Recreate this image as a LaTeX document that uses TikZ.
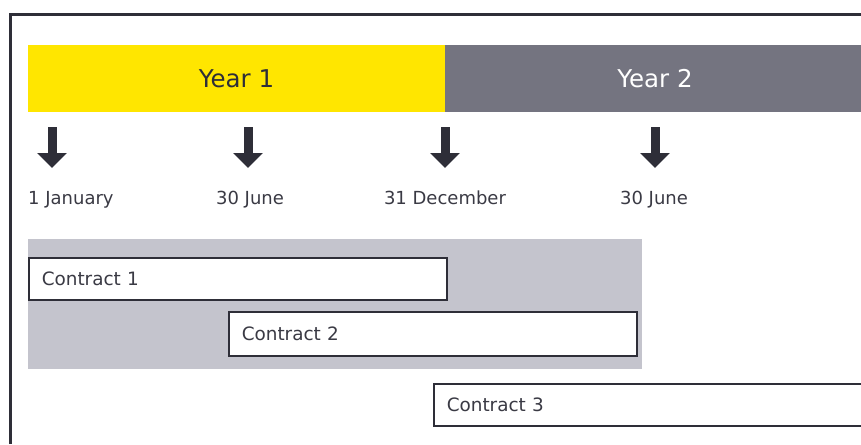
\documentclass[tikz,border=0pt]{standalone}
\usepackage{fontspec}
\setmainfont{DejaVu Sans}
\usetikzlibrary{arrows.meta,positioning}
\definecolor{eyyellow}{HTML}{FFE600}
\definecolor{eygray}{HTML}{747480}
\definecolor{eylight}{HTML}{C4C4CD}
\definecolor{eydark}{HTML}{2E2E38}
\definecolor{eytext}{HTML}{3A3A44}

\begin{document}
\begin{tikzpicture}[x=1pt,y=-1pt]
	\tikzstyle{year_bar} = [rectangle, anchor=north west, minimum height=67pt, inner sep=0pt, outer sep=0pt, font=\fontsize{24.5}{30}\selectfont]
	\tikzstyle{date_label} = [text=eytext, inner sep=0pt, font=\fontsize{18}{22}\selectfont]
	\tikzstyle{contract_box} = [rectangle, draw=eydark, line width=1.5pt, fill=white, anchor=north west, inner xsep=13pt, inner ysep=0pt, align=left, text=eytext, font=\fontsize{18.4}{22}\selectfont]
	\tikzstyle{date_arrow} = [eydark, line width=9pt, -{Triangle[width=29pt,length=15pt]}]

	\useasboundingbox (0,0) rectangle (861,444);

	% Frame
	\draw[eydark, line width=2.5pt] (10.5,444) -- (10.5,14.5) -- (861,14.5);

	% Year bars
	\node (yr1) [year_bar, fill=eyyellow, text=eydark, minimum width=417pt] at (28,45) {Year 1};
	\node (yr2) [year_bar, fill=eygray, text=white, minimum width=420pt] at (yr1.north east) {Year 2};

	% Dates
	\node (jan) [date_label, anchor=base west] at (28,204) {1 January};
	\node (jun1) [date_label, anchor=base] at (250,204) {30 June};
	\node (dec) [date_label, anchor=base] at (445,204) {31 December};
	\node (jun2) [date_label, anchor=base] at (654,204) {30 June};
	\foreach \x [count=\i] in {52,248,445,655} {
		\coordinate (top\i) at (\x,127);
		\coordinate (tip\i) at (\x,168);
		\draw[date_arrow] (top\i) -- (tip\i);
	}

	% First year period
	\node (period) [rectangle, fill=eylight, anchor=north west, minimum width=614pt, minimum height=130pt, inner sep=0pt] at (28,239) {};

	% Contracts
	\node (c1) [contract_box, text width=392pt, minimum height=42pt] at (28,257) {Contract 1};
	\node (c2) [contract_box, text width=382pt, minimum height=44pt] at (228,311) {Contract 2};
	\node (c3) [contract_box, text width=430pt, minimum height=42pt] at (433,383) {Contract 3};
\end{tikzpicture}
\end{document}
